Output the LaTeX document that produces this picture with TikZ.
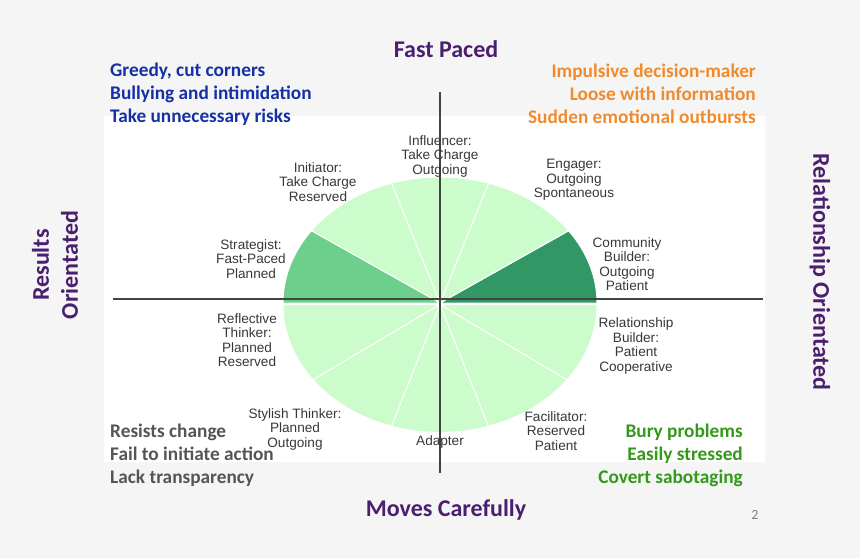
\documentclass[tikz,border=0pt]{standalone}
\usepackage{fontspec}
\setmainfont{Carlito}
\newfontfamily\labelfont{Liberation Sans}
\usetikzlibrary{positioning}
\definecolor{Page}{HTML}{F5F5F5}
\definecolor{Purple}{HTML}{4B1F6F}
\definecolor{Navy}{HTML}{1530A6}
\definecolor{Orange}{HTML}{F08A2C}
\definecolor{Slate}{HTML}{555555}
\definecolor{Leaf}{HTML}{339919}
\definecolor{PaleGreen}{HTML}{CCFBCC}
\definecolor{MidGreen}{HTML}{6CCF8C}
\definecolor{DarkGreen}{HTML}{319765}
\definecolor{Axis}{HTML}{444444}

\begin{document}
\begin{tikzpicture}[x=1pt,y=-1pt,
      slice/.style={draw=white,line width=1pt},
      axisline/.style={draw=Axis,line width=1.1pt},
      title/.style={font=\fontsize{24}{29}\selectfont\bfseries,text=Purple,align=center,inner sep=0pt},
      trait/.style={font=\fontsize{19.3}{23}\selectfont\bfseries,inner sep=0pt},
      style/.style={font=\labelfont\fontsize{13.6}{14.5}\selectfont,text=black!78,align=center,inner sep=0pt}]
      \useasboundingbox[fill=Page] (0,0) rectangle (860,558);
      \fill[white] (104,116) rectangle (765,462);
      % pie, upper half and lower half
      \coordinate (ctop) at (440,303);
      \coordinate (cbot) at (440,304.5);
      \fill[slice,fill=DarkGreen] (ctop) -- ++(0:157pt and 126pt) arc[start angle=0,end angle=35,x radius=157pt,y radius=126pt] -- cycle;
      \fill[slice,fill=PaleGreen] (ctop) -- ++(35:157pt and 126pt) arc[start angle=35,end angle=72,x radius=157pt,y radius=126pt] -- cycle;
      \fill[slice,fill=PaleGreen] (ctop) -- ++(72:157pt and 126pt) arc[start angle=72,end angle=108,x radius=157pt,y radius=126pt] -- cycle;
      \fill[slice,fill=PaleGreen] (ctop) -- ++(108:157pt and 126pt) arc[start angle=108,end angle=145,x radius=157pt,y radius=126pt] -- cycle;
      \fill[slice,fill=MidGreen] (ctop) -- ++(145:157pt and 126pt) arc[start angle=145,end angle=180,x radius=157pt,y radius=126pt] -- cycle;
      \fill[slice,fill=PaleGreen] (cbot) -- ++(180:157pt and 128pt) arc[start angle=180,end angle=216,x radius=157pt,y radius=128pt] -- cycle;
      \fill[slice,fill=PaleGreen] (cbot) -- ++(216:157pt and 128pt) arc[start angle=216,end angle=252,x radius=157pt,y radius=128pt] -- cycle;
      \fill[slice,fill=PaleGreen] (cbot) -- ++(252:157pt and 128pt) arc[start angle=252,end angle=288,x radius=157pt,y radius=128pt] -- cycle;
      \fill[slice,fill=PaleGreen] (cbot) -- ++(288:157pt and 128pt) arc[start angle=288,end angle=324,x radius=157pt,y radius=128pt] -- cycle;
      \fill[slice,fill=PaleGreen] (cbot) -- ++(324:157pt and 128pt) arc[start angle=324,end angle=360,x radius=157pt,y radius=128pt] -- cycle;
      % axes
      \coordinate (up) at (440,92);
      \coordinate (down) at (440,473);
      \coordinate (left) at (113,299);
      \coordinate (right) at (763,299);
      \draw[axisline] (up) -- (down);
      \draw[axisline] (left) -- (right);
      % axis titles
      \node[title] (fast) at (446,49) {Fast Paced};
      \node[title] (careful) at (446,510) {Moves Carefully};
      \node[title,rotate=90] (results) at (55,265) {Results\\Orientated};
      \node[title,rotate=-90] (relation) at (820,272) {Relationship Orientated};
      % traits per quadrant
      \node[trait,text=Navy,align=left,anchor=west] (greedy) at (110,94) {Greedy, cut corners\\Bullying and intimidation\\Take unnecessary risks};
      \node[trait,text=Orange,align=right,anchor=east] (impulsive) at (756,94) {Impulsive decision-maker\\Loose with information\\Sudden emotional outbursts};
      \node[trait,text=Slate,align=left,anchor=west] (resists) at (110,455) {Resists change\\Fail to initiate action\\Lack transparency};
      \node[trait,text=Leaf,align=right,anchor=east] (bury) at (743,455) {Bury problems\\Easily stressed\\Covert sabotaging};
      % slice labels
      \node[style] (influencer) at (440,156) {Influencer:\\Take Charge\\Outgoing};
      \node[style] (initiator) at (318,182) {Initiator:\\Take Charge\\Reserved};
      \node[style] (engager) at (574,180) {Engager:\\Outgoing\\Spontaneous};
      \node[style] (community) at (627,264) {Community\\Builder:\\Outgoing\\Patient};
      \node[style] (strategist) at (251,259) {Strategist:\\Fast-Paced\\Planned};
      \node[style] (reflective) at (247,340) {Reflective\\Thinker:\\Planned\\Reserved};
      \node[style] (stylish) at (295,429) {Stylish Thinker:\\Planned\\Outgoing};
      \node[style] (adapter) at (440,442) {Adapter};
      \node[style] (facilitator) at (556,431) {Facilitator:\\Reserved\\Patient};
      \node[style] (relbuilder) at (636,346) {Relationship\\Builder:\\Patient\\Cooperative};
      \node[font=\fontsize{14}{16}\selectfont,text=black!50] (page) at (755,515) {2};
    \end{tikzpicture}
\end{document}
